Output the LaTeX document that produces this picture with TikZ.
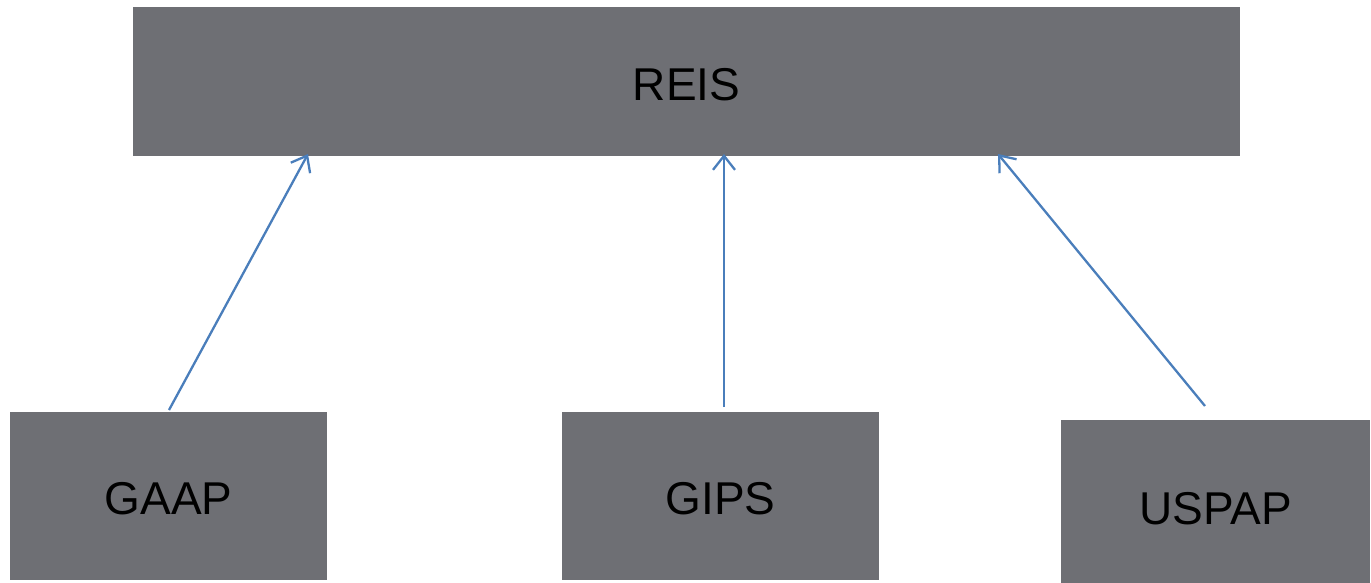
\documentclass[tikz,border=0pt]{standalone}
\usepackage{fontspec}
\setmainfont{Liberation Sans}
\usetikzlibrary{arrows.meta}
\definecolor{boxgray}{RGB}{110,111,116}
\definecolor{arrowblue}{RGB}{74,126,187}
\begin{document}
\begin{tikzpicture}[x=1pt,y=-1pt,
  box/.style={draw=none,fill=boxgray,inner sep=0pt,font=\fontsize{46}{55}\selectfont,text=black,text depth=0pt},
  conn/.style={draw=arrowblue,line width=2.3pt,-{Straight Barb[length=14pt,width=22pt,line width=2.3pt]}}]
\useasboundingbox (0,0) rectangle (1371,583);
\node[box,text height=39pt,minimum width=1107pt,minimum height=149pt] (reis) at (686.5,81.5) {REIS};
\node[box,text height=37pt,minimum width=317pt,minimum height=168pt] (gaap) at (168.5,496) {GAAP};
\node[box,text height=37pt,minimum width=317pt,minimum height=168pt] (gips) at (720.5,496) {GIPS};
\node[box,text height=45pt,minimum width=309pt,minimum height=163pt] (uspap) at (1215.5,501.5) {USPAP};
\coordinate (gaapS) at (169,410);
\coordinate (gipsS) at (724,407);
\coordinate (uspapS) at (1205,406);
\coordinate (reisA) at (308,154);
\coordinate (reisB) at (724,154);
\coordinate (reisC) at (998,154);
\draw[conn] (gaapS) -- (reisA);
\draw[conn] (gipsS) -- (reisB);
\draw[conn] (uspapS) -- (reisC);
\end{tikzpicture}
\end{document}
